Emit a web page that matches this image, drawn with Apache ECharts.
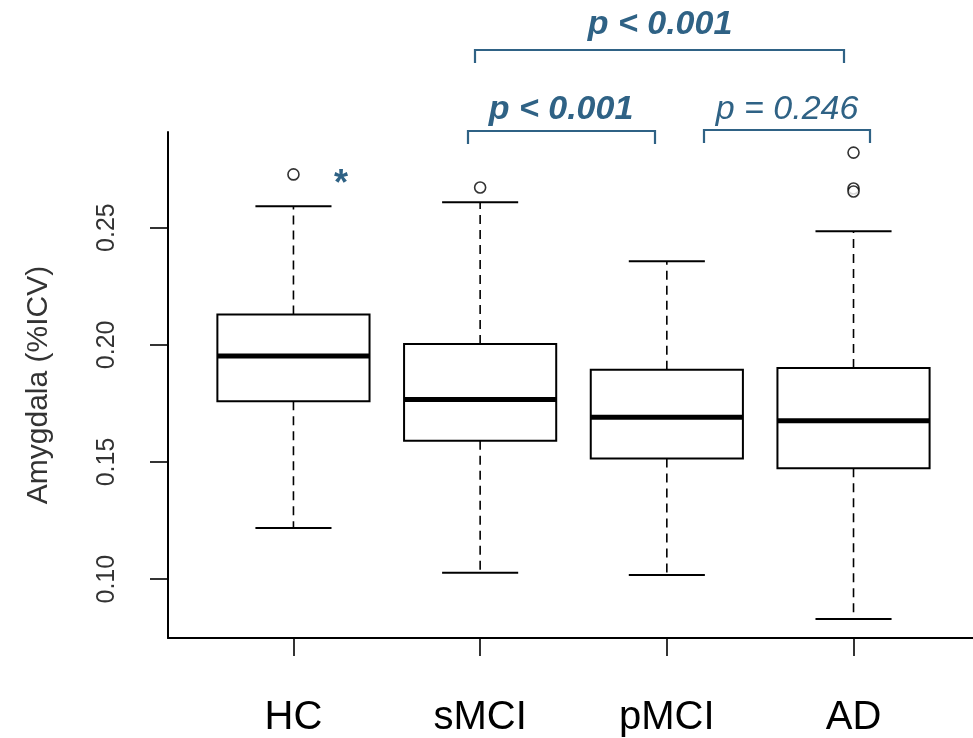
<!DOCTYPE html>
<html>
<head>
<meta charset="utf-8">
<script src="https://cdn.jsdelivr.net/npm/echarts@6/dist/echarts.min.js"></script>
<style>
  html, body { margin: 0; padding: 0; background: #fff; }
  #chart { width: 973px; height: 738px; }
</style>
</head>
<body>
<div id="chart"></div>
<script>
// groups and box statistics
var groups = ["HC", "sMCI", "pMCI", "AD"];
var whiskerLow = [0.1218, 0.1027, 0.1018, 0.0830];
var q1 = [0.1759, 0.1591, 0.1515, 0.1473];
var medians = [0.1952, 0.1767, 0.1691, 0.1676];
var q3 = [0.2129, 0.2003, 0.1894, 0.1901];
var whiskerHigh = [0.2591, 0.2608, 0.2357, 0.2484];

// outliers: group index + value
var outlierGroup = [0, 1, 3, 3, 3];
var outlierValue = [0.2727, 0.2671, 0.2820, 0.2667, 0.2654];

var yTicks = [0.10, 0.15, 0.20, 0.25];

var blue = "#2f6285";

var chart = echarts.init(document.getElementById("chart"));

var boxData = groups.map(function (g, i) {
  return [i, whiskerLow[i], q1[i], medians[i], q3[i], whiskerHigh[i]];
});
var outlierData = outlierGroup.map(function (g, i) {
  return [g, outlierValue[i]];
});

function renderBox(params, api) {
  var x = api.value(0);
  var lo = api.coord([x, api.value(1)]);
  var b1 = api.coord([x, api.value(2)]);
  var md = api.coord([x, api.value(3)]);
  var b3 = api.coord([x, api.value(4)]);
  var hi = api.coord([x, api.value(5)]);
  var w = api.size([0.815, 0])[0];
  var cx = lo[0];
  var dash = { stroke: "#000", lineWidth: 1.6, lineDash: [9, 6], fill: null };
  var solid = { stroke: "#000", lineWidth: 2, fill: null };
  return {
    type: "group",
    children: [
      { type: "line", shape: { x1: cx, y1: b3[1], x2: cx, y2: hi[1] }, style: dash },
      { type: "line", shape: { x1: cx, y1: b1[1], x2: cx, y2: lo[1] }, style: dash },
      { type: "line", shape: { x1: cx - w / 4, y1: hi[1], x2: cx + w / 4, y2: hi[1] }, style: solid },
      { type: "line", shape: { x1: cx - w / 4, y1: lo[1], x2: cx + w / 4, y2: lo[1] }, style: solid },
      { type: "rect", shape: { x: cx - w / 2, y: b3[1], width: w, height: b1[1] - b3[1] },
        style: { stroke: "#000", lineWidth: 2, fill: "#fff" } },
      { type: "line", shape: { x1: cx - w / 2, y1: md[1], x2: cx + w / 2, y2: md[1] },
        style: { stroke: "#000", lineWidth: 5 } }
    ]
  };
}

var option = {
  backgroundColor: "#fff",
  animation: false,
  grid: { left: 168, right: 0, top: 132, bottom: 97 },
  xAxis: {
    type: "value",
    min: -0.672,
    max: 3.64,
    splitLine: { show: false },
    axisLine: { onZero: false, lineStyle: { color: "#000", width: 2 } },
    axisTick: { length: 18, lineStyle: { color: "#000", width: 1.6 }, customValues: [0, 1, 2, 3] },
    axisLabel: {
      customValues: [0, 1, 2, 3],
      margin: 60,
      color: "#000",
      fontSize: 40,
      fontFamily: "Liberation Sans",
      formatter: function (v) { return groups[Math.round(v)]; }
    }
  },
  yAxis: {
    type: "value",
    min: 0.0749,
    max: 0.2908,
    name: "Amygdala (%ICV)",
    nameLocation: "middle",
    nameRotate: 90,
    nameGap: 114,
    nameTextStyle: { color: "#333", fontSize: 30, fontFamily: "Liberation Sans" },
    splitLine: { show: false },
    axisLine: { onZero: false, lineStyle: { color: "#000", width: 2 } },
    axisTick: { length: 18, lineStyle: { color: "#000", width: 1.6 }, customValues: yTicks },
    axisLabel: {
      customValues: yTicks,
      rotate: 90,
      margin: 48,
      color: "#333",
      fontSize: 25,
      fontFamily: "Liberation Sans",
      formatter: function (v) { return v.toFixed(2); }
    }
  },
  series: [
    {
      type: "custom",
      renderItem: renderBox,
      data: boxData,
      encode: { x: 0, y: [1, 2, 3, 4, 5] },
      clip: false,
      z: 2
    },
    {
      type: "scatter",
      data: outlierData,
      symbol: "circle",
      symbolSize: 11,
      itemStyle: { color: "#fff", borderColor: "#000", borderWidth: 1.6 },
      z: 3
    }
  ],
  graphic: [
    // brackets
    { type: "polyline", shape: { points: [[475, 63], [475, 50], [844, 50], [844, 63]] },
      style: { stroke: blue, lineWidth: 2.2, fill: null } },
    { type: "polyline", shape: { points: [[468, 144], [468, 131], [655, 131], [655, 144]] },
      style: { stroke: blue, lineWidth: 2.2, fill: null } },
    { type: "polyline", shape: { points: [[704, 143], [704, 130], [870, 130], [870, 143]] },
      style: { stroke: blue, lineWidth: 2.2, fill: null } },
    // p-values
    { type: "text", x: 660, y: 25, style: { text: "p < 0.001", fill: blue, font: "italic bold 34px Liberation Sans",
      textAlign: "center", textVerticalAlign: "middle" } },
    { type: "text", x: 561, y: 110, style: { text: "p < 0.001", fill: blue, font: "italic bold 34px Liberation Sans",
      textAlign: "center", textVerticalAlign: "middle" } },
    { type: "text", x: 787, y: 110, style: { text: "p = 0.246", fill: blue, font: "italic 34px Liberation Sans",
      textAlign: "center", textVerticalAlign: "middle" } },
    { type: "text", x: 341, y: 185, style: { text: "*", fill: blue, font: "bold 36px Liberation Sans",
      textAlign: "center", textVerticalAlign: "middle" } }
  ]
};

chart.setOption(option);
</script>
</body>
</html>
